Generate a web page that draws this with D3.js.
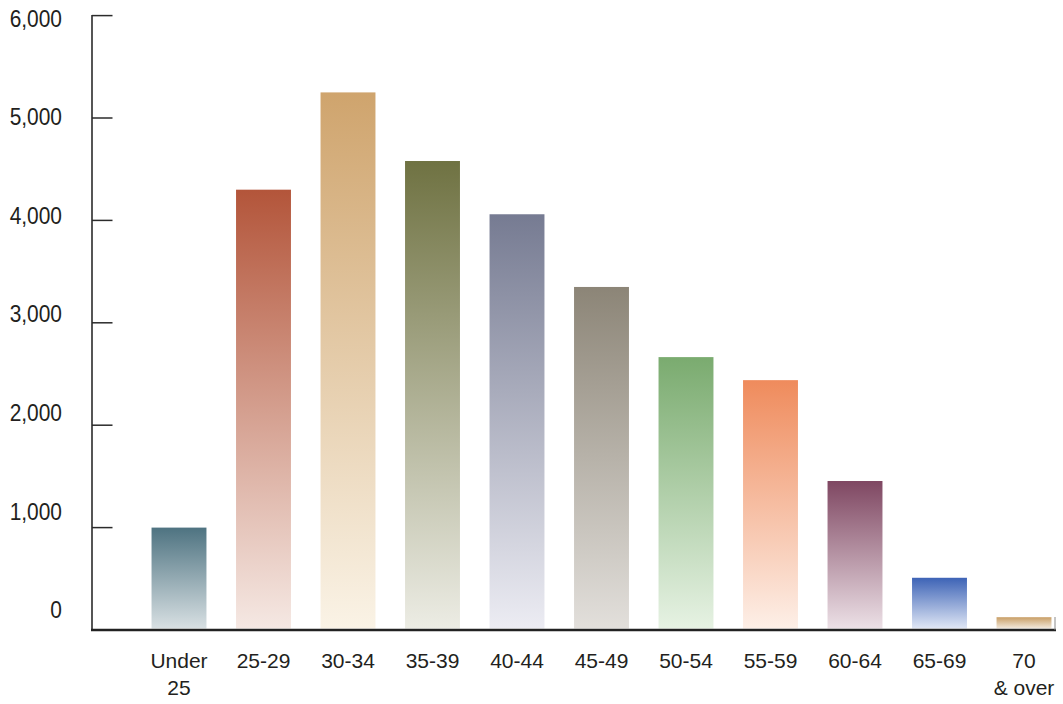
<!DOCTYPE html>
<html>
<head>
<meta charset="utf-8">
<script src="https://cdn.jsdelivr.net/npm/d3@7"></script>
<style>
  html, body { margin: 0; padding: 0; background: #fff; }
  svg { display: block; }
  text { font-family: "Liberation Sans", Arial, sans-serif; fill: #231f20; }
</style>
</head>
<body>
<svg id="chart" width="1063" height="704"></svg>
<script>
// Age groups (two-line labels split on "\n")
const categories = ["Under\n25", "25-29", "30-34", "35-39", "40-44", "45-49", "50-54", "55-59", "60-64", "65-69", "70\n& over"];
const values = [1000, 4300, 5250, 4580, 4060, 3350, 2665, 2440, 1455, 510, 125];
const yTicks = [0, 1000, 2000, 3000, 4000, 5000, 6000];
const topColors = ["#4e7381", "#b3553a", "#cfa46d", "#6f7242", "#767b92", "#8c8577", "#7aab6f", "#ef8b5c", "#7f4762", "#3d63b6", "#c99f66"];
const bottomColors = ["#d8e0e3", "#f5e8e3", "#faf3e6", "#ecece4", "#ececf3", "#e2dfdb", "#e6f2e3", "#fdefe7", "#ece0e6", "#e0e7f5", "#f3eade"];

const svg = d3.select("#chart");

const x = d3.scaleBand()
  .domain(categories)
  .range([136.75, 1066.25])
  .paddingInner(0.35)
  .paddingOuter(0.175);

const y = d3.scaleLinear().domain([0, 6000]).range([630, 15.6]);
// tick labels sit on their own slightly tighter spacing
const yLabel = d3.scaleLinear().domain([0, 6000]).range([610, 18.3]);

// vertical gradient per bar: full colour at the top fading to pale at the base
const defs = svg.append("defs");
categories.forEach((c, i) => {
  const g = defs.append("linearGradient")
    .attr("id", "grad" + i)
    .attr("x1", 0).attr("y1", 0).attr("x2", 0).attr("y2", 1);
  g.append("stop").attr("offset", "0%").attr("stop-color", topColors[i]);
  g.append("stop").attr("offset", "100%").attr("stop-color", bottomColors[i]);
});

// bars
svg.append("g")
  .selectAll("rect")
  .data(values)
  .join("rect")
  .attr("x", (d, i) => x(categories[i]))
  .attr("y", d => y(d))
  .attr("width", x.bandwidth())
  .attr("height", d => y(0) - y(d) - 1.5)
  .attr("fill", (d, i) => `url(#grad${i})`);

// y axis line and ticks
const axisG = svg.append("g");
axisG.append("line")
  .attr("x1", 92).attr("x2", 92)
  .attr("y1", y(6000) - 0.5).attr("y2", y(0))
  .attr("stroke", "#2b2b2b").attr("stroke-width", 1.6);
axisG.selectAll("line.tick")
  .data(yTicks.filter(t => t > 0))
  .join("line")
  .attr("class", "tick")
  .attr("x1", 92).attr("x2", 112.5)
  .attr("y1", d => y(d)).attr("y2", d => y(d))
  .attr("stroke", "#2b2b2b").attr("stroke-width", 1.5);

axisG.selectAll("text")
  .data(yTicks)
  .join("text")
  .attr("text-anchor", "end")
  .attr("transform", d => `translate(62,${yLabel(d) + 8.3}) scale(0.91,1)`)
  .style("font-size", "23px")
  .text(d => d3.format(",")(d));

// baseline
svg.append("line")
  .attr("x1", 91).attr("x2", 1056)
  .attr("y1", y(0)).attr("y2", y(0))
  .attr("stroke", "#222").attr("stroke-width", 2.6);
svg.append("line")
  .attr("x1", 1055).attr("x2", 1055)
  .attr("y1", 617).attr("y2", y(0))
  .attr("stroke", "#8a8a8a").attr("stroke-width", 1);

// category labels
const xLab = svg.append("g");
categories.forEach(c => {
  const lines = c.split("\n");
  const t = xLab.append("text")
    .attr("text-anchor", "middle")
    .style("font-size", "21px")
    .attr("transform", `translate(${x(c) + x.bandwidth() / 2},668)`);
  lines.forEach((ln, j) => {
    t.append("tspan").attr("x", 0).attr("y", j * 27).text(ln);
  });
});
</script>
</body>
</html>
